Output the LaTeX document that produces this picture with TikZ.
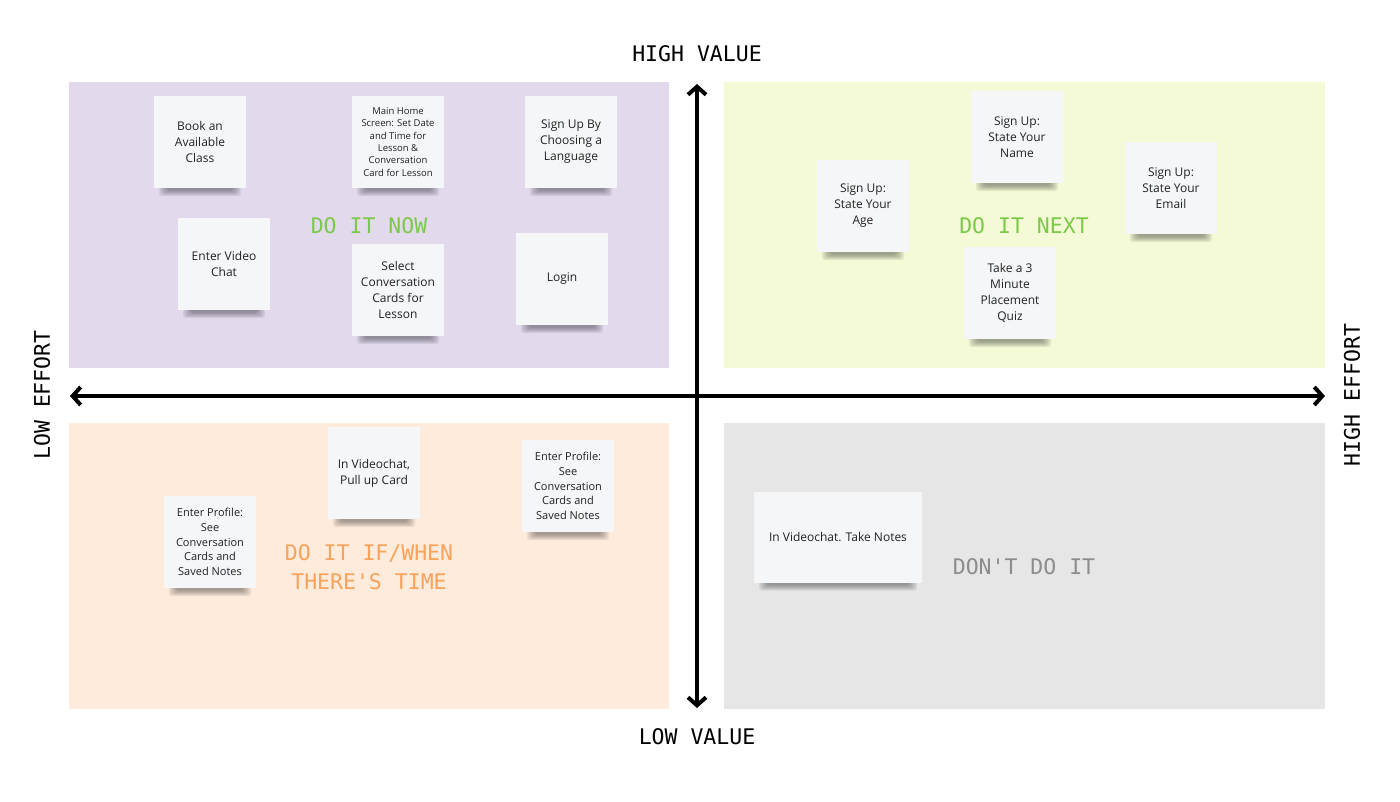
\documentclass[tikz,border=0pt]{standalone}
\usepackage{fontspec}
\setmainfont{Open Sans}
\newfontfamily\monofont{DejaVu Sans Mono}
\usetikzlibrary{arrows.meta,calc}
\pgfdeclarelayer{background}
\pgfsetlayers{background,main}
\definecolor{qpurple}{HTML}{E2D9ED}
\definecolor{qgreen}{HTML}{F4F9D6}
\definecolor{qorange}{HTML}{FEEBDC}
\definecolor{qgray}{HTML}{E6E6E6}
\definecolor{tgreen}{HTML}{7CC94A}
\definecolor{torange}{HTML}{F7A35C}
\definecolor{tgray}{HTML}{8C8C8C}
\definecolor{notefill}{HTML}{F5F6F8}
\definecolor{notetext}{HTML}{222222}
\tikzset{
  sticky/.style={fill=notefill, minimum width=92pt, minimum height=92pt, inner sep=2pt,
    align=center, text=notetext, font=\fontsize{12}{16}\selectfont},
  smallnote/.style={font=\fontsize{9.5}{12.3}\selectfont},
  midnote/.style={font=\fontsize{11}{14.7}\selectfont},
  heading/.style={font=\monofont\fontsize{21.5}{29}\selectfont},
  axislabel/.style={font=\monofont\fontsize{21.5}{26}\selectfont, text=black},
  shadowpiece/.style={fill=black, fill opacity=0.065, rounded corners=3pt},
  axis/.style={line width=4pt, {Straight Barb[length=8pt,width=18pt,line width=4pt]}-{Straight Barb[length=8pt,width=18pt,line width=4pt]}}
}
\begin{document}
\begin{tikzpicture}[x=1pt,y=-1pt]
\useasboundingbox (0,0) rectangle (1400,801);
\begin{pgfonlayer}{background}
\fill[white] (0,0) rectangle (1400,801);
% quadrants
\fill[qpurple] (69,82) rectangle (669,368);
\fill[qgreen] (724,82) rectangle (1325,368);
\fill[qorange] (69,423) rectangle (669,709);
\fill[qgray] (724,423) rectangle (1325,709);
\end{pgfonlayer}
% axes
\coordinate (top) at (697,84);
\coordinate (bottom) at (697,708);
\coordinate (left) at (70,396);
\coordinate (right) at (1325,396);
\draw[axis] (top) -- (bottom);
\draw[axis] (left) -- (right);
% axis labels
\node[axislabel] (hv) at (697,54) {HIGH VALUE};
\node[axislabel] (lv) at (697,737) {LOW VALUE};
\node[axislabel, rotate=90] (le) at (42,395) {LOW EFFORT};
\node[axislabel, rotate=90] (he) at (1352,395) {HIGH EFFORT};
% quadrant headings
\node[heading, text=tgreen] (now) at (369,226) {DO IT NOW};
\node[heading, text=tgreen] (next) at (1024,226) {DO IT NEXT};
\node[heading, text=torange, align=center] (ifwhen) at (369,567) {DO IT IF/WHEN\\THERE'S TIME};
\node[heading, text=tgray] (dont) at (1024,567) {DON'T DO IT};
% do it now
\node[sticky] (n1) at (200,142) {Book an\\Available\\Class};
\node[sticky, smallnote] (n2) at (398,142) {Main Home\\Screen: Set Date\\and Time for\\Lesson \&\\Conversation\\Card for Lesson};
\node[sticky] (n3) at (571,142) {Sign Up By\\Choosing a\\Language};
\node[sticky] (n4) at (224,264) {Enter Video\\Chat};
\node[sticky] (n5) at (398,290) {Select\\Conversation\\Cards for\\Lesson};
\node[sticky] (n6) at (562,279) {Login};
% do it next
\node[sticky] (n7) at (863,206) {Sign Up:\\State Your\\Age};
\node[sticky] (n8) at (1017,137) {Sign Up:\\State Your\\Name};
\node[sticky] (n9) at (1171,188) {Sign Up:\\State Your\\Email};
\node[sticky] (n10) at (1010,293) {Take a 3\\Minute\\Placement\\Quiz};
% if/when
\node[sticky] (n11) at (374,473) {In Videochat,\\Pull up Card};
\node[sticky, midnote] (n12) at (210,542) {Enter Profile:\\See\\Conversation\\Cards and\\Saved Notes};
\node[sticky, midnote] (n13) at (568,486) {Enter Profile:\\See\\Conversation\\Cards and\\Saved Notes};
% don't do it
\node[sticky, minimum width=168pt, minimum height=91pt] (n14) at (838,537) {In Videochat. Take Notes};
% shadows under the notes
\begin{pgfonlayer}{background}
\foreach \n in {n1,n2,n3,n4,n5,n6,n7,n8,n9,n10,n11,n12,n13,n14}{
  \foreach \k in {0,...,5}{
    \fill[shadowpiece] ($(\n.south west)+(5+\k*1.6,-12)$) rectangle ($(\n.south east)+(-5-\k*1.6,8-\k*1.1)$);
  }
}
\end{pgfonlayer}
\end{tikzpicture}
\end{document}
